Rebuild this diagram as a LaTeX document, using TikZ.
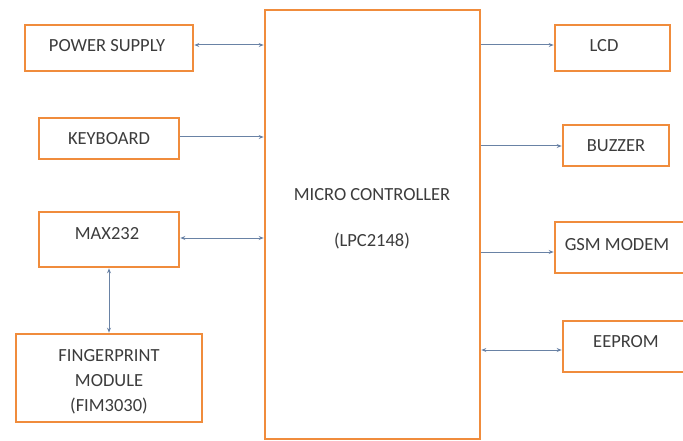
\documentclass[tikz,border=0pt]{standalone}
\usepackage{fontspec}
\setmainfont{Carlito}
\usetikzlibrary{arrows.meta}
\definecolor{boxorange}{RGB}{240,140,60}
\definecolor{arrowblue}{RGB}{105,130,165}
\definecolor{txtgray}{RGB}{60,60,60}
\tikzset{
  blk/.style={draw=boxorange, line width=2.6pt, fill=white, inner sep=0pt},
  lbl/.style={text=txtgray, font=\fontsize{18.5}{22}\selectfont, inner sep=0pt},
  arr/.style={draw=arrowblue, line width=1pt, -{Stealth[length=5pt,width=4pt]}},
  darr/.style={draw=arrowblue, line width=1pt, {Stealth[length=5pt,width=4pt]}-{Stealth[length=5pt,width=4pt]}}
}
\begin{document}
\begin{tikzpicture}[x=1pt,y=-1pt]
\useasboundingbox (0,0) rectangle (683,441);
\clip (0,0) rectangle (683,441);
% boxes
\node[blk, minimum width=168pt, minimum height=46pt] (ps) at (109,48) {};
\node[blk, minimum width=140pt, minimum height=41pt] (kb) at (109,138.5) {};
\node[blk, minimum width=140pt, minimum height=55pt] (mx) at (109,239.5) {};
\node[blk, minimum width=186pt, minimum height=88pt] (fp) at (109,378) {};
\node[blk, minimum width=215pt, minimum height=429pt] (mc) at (372.5,224.5) {};
\node[blk, minimum width=115pt, minimum height=46pt] (lcd) at (612.5,48) {};
\node[blk, minimum width=106pt, minimum height=41pt] (bz) at (616,145.5) {};
\node[blk, minimum width=134pt, minimum height=51pt] (gsm) at (622,247.5) {};
\node[blk, minimum width=126pt, minimum height=51pt] (ee) at (626,346.5) {};
% texts
\node[lbl] (tps) at (107,46) {POWER SUPPLY};
\node[lbl] (tkb) at (109,139) {KEYBOARD};
\node[lbl] (tmx) at (107,234) {MAX232};
\node[lbl, align=center, font=\fontsize{18.5}{25}\selectfont] (tfp) at (109,382) {FINGERPRINT\\MODULE\\(FIM3030)};
\node[lbl] (tmc1) at (372,195) {MICRO CONTROLLER};
\node[lbl] (tmc2) at (372,241) {(LPC2148)};
\node[lbl] (tlcd) at (604,46) {LCD};
\node[lbl] (tbz) at (616,146) {BUZZER};
\node[lbl] (tgsm) at (617,245) {GSM MODEM};
\node[lbl] (tee) at (626,342) {EEPROM};
% connectors
\coordinate (mcps) at (mc.west |- 0,45);
\coordinate (mckb) at (mc.west |- 0,137);
\coordinate (mcmx) at (mc.west |- 0,238);
\draw[darr] (mcps) -- (ps.east |- mcps);
\draw[arr] (kb.east |- mckb) -- (mckb);
\draw[darr] (mcmx) -- (mx.east |- mcmx);
\draw[darr] (mx.south) -- (fp.north);
\coordinate (mclcd) at (mc.east |- 0,45);
\coordinate (mcbz) at (mc.east |- 0,146);
\coordinate (mcgsm) at (mc.east |- 0,252);
\coordinate (mcee) at (mc.east |- 0,350);
\draw[arr] (mclcd) -- (lcd.west |- mclcd);
\draw[arr] (mcbz) -- (bz.west |- mcbz);
\draw[arr] (mcgsm) -- (gsm.west |- mcgsm);
\draw[darr] (mcee) -- (ee.west |- mcee);
\end{tikzpicture}
\end{document}
